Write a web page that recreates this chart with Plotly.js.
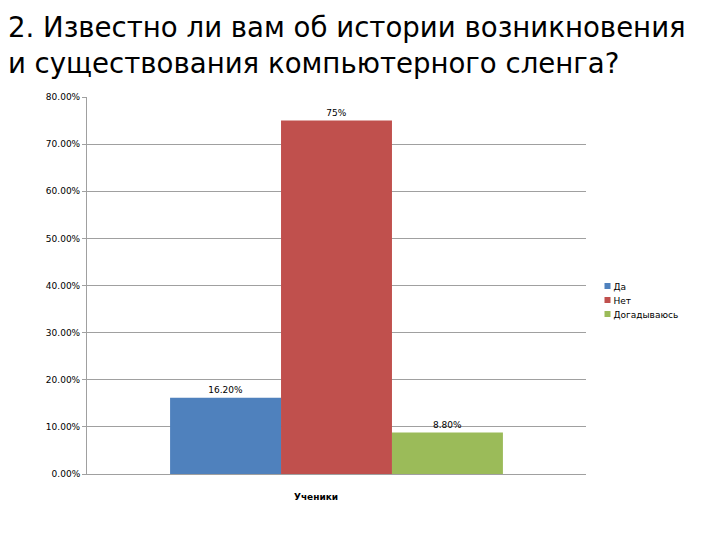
<!DOCTYPE html>
<html>
<head>
<meta charset="utf-8">
<script src="https://cdn.plot.ly/plotly-3.0.1.min.js"></script>
<style>body{margin:0;background:#fff}</style>
</head>
<body>
<div id="chart" style="width:720px;height:540px"></div>
<script>
const categories = ['Ученики'];
const seriesNames = ['Да', 'Нет', 'Догадываюсь'];
const seriesValues = [[0.162], [0.75], [0.088]];
const seriesLabels = [['16.20%'], ['75%'], ['8.80%']];
const colors = ['#4f81bd', '#c0504d', '#9bbb59'];

var data = seriesNames.map((name, i) => ({
  x: categories,
  y: seriesValues[i],
  name: name,
  type: 'bar',
  text: seriesLabels[i],
  textposition: 'outside',
  cliponaxis: false,
  textfont: {family: 'DejaVu Sans', size: 9, color: '#000'},
  marker: {color: colors[i]},
  hoverinfo: 'none'
}));

var layout = {
  width: 720,
  height: 540,
  margin: {l: 87, r: 133, t: 97, b: 66},
  paper_bgcolor: '#fff',
  plot_bgcolor: '#fff',
  font: {family: 'DejaVu Sans', color: '#000'},
  title: {
    text: '2. Известно ли вам об истории возникновения<br>и существования компьютерного сленга?',
    font: {family: 'DejaVu Sans', size: 27.6, color: '#000'},
    x: 0.011, xanchor: 'left', xref: 'container',
    y: 0.932, yanchor: 'top', yref: 'container'
  },
  barmode: 'group',
  bargap: 0.333,
  bargroupgap: 0,
  showlegend: true,
  legend: {
    x: 1.025, xanchor: 'left', y: 0.46, yanchor: 'middle',
    font: {family: 'DejaVu Sans', size: 9},
    itemwidth: 30, tracegroupgap: 0
  },
  xaxis: {
    showticklabels: false,
    showgrid: false,
    showline: true,
    linecolor: '#a0a0a0',
    zeroline: false
  },
  yaxis: {
    range: [0, 0.8],
    dtick: 0.1,
    tickformat: '.2%',
    tickfont: {family: 'DejaVu Sans', size: 9},
    showgrid: true,
    gridcolor: '#a0a0a0',
    showline: true,
    linecolor: '#a0a0a0',
    ticks: 'outside',
    ticklen: 4,
    tickcolor: '#a0a0a0',
    zeroline: false
  },
  annotations: [{
    text: '<b>' + categories[0] + '</b>',
    xref: 'paper', yref: 'paper',
    x: 0.458, y: -0.06, yanchor: 'middle',
    showarrow: false,
    font: {family: 'DejaVu Sans', size: 9}
  }]
};

Plotly.newPlot('chart', data, layout, {staticPlot: true}).then(gd => {
  // shrink legend swatches and pull the labels closer, like the original
  gd.querySelectorAll('.legend .traces').forEach((g, i) => {
    g.setAttribute('transform', 'translate(0,' + (19 + i * 14) + ')');
    const p = g.querySelector('.legendpoints path');
    if (p) p.setAttribute('transform', 'translate(8,0) scale(0.5)');
    const t = g.querySelector('.legendtext');
    if (t) t.setAttribute('x', 14);
  });
});
</script>
</body>
</html>
